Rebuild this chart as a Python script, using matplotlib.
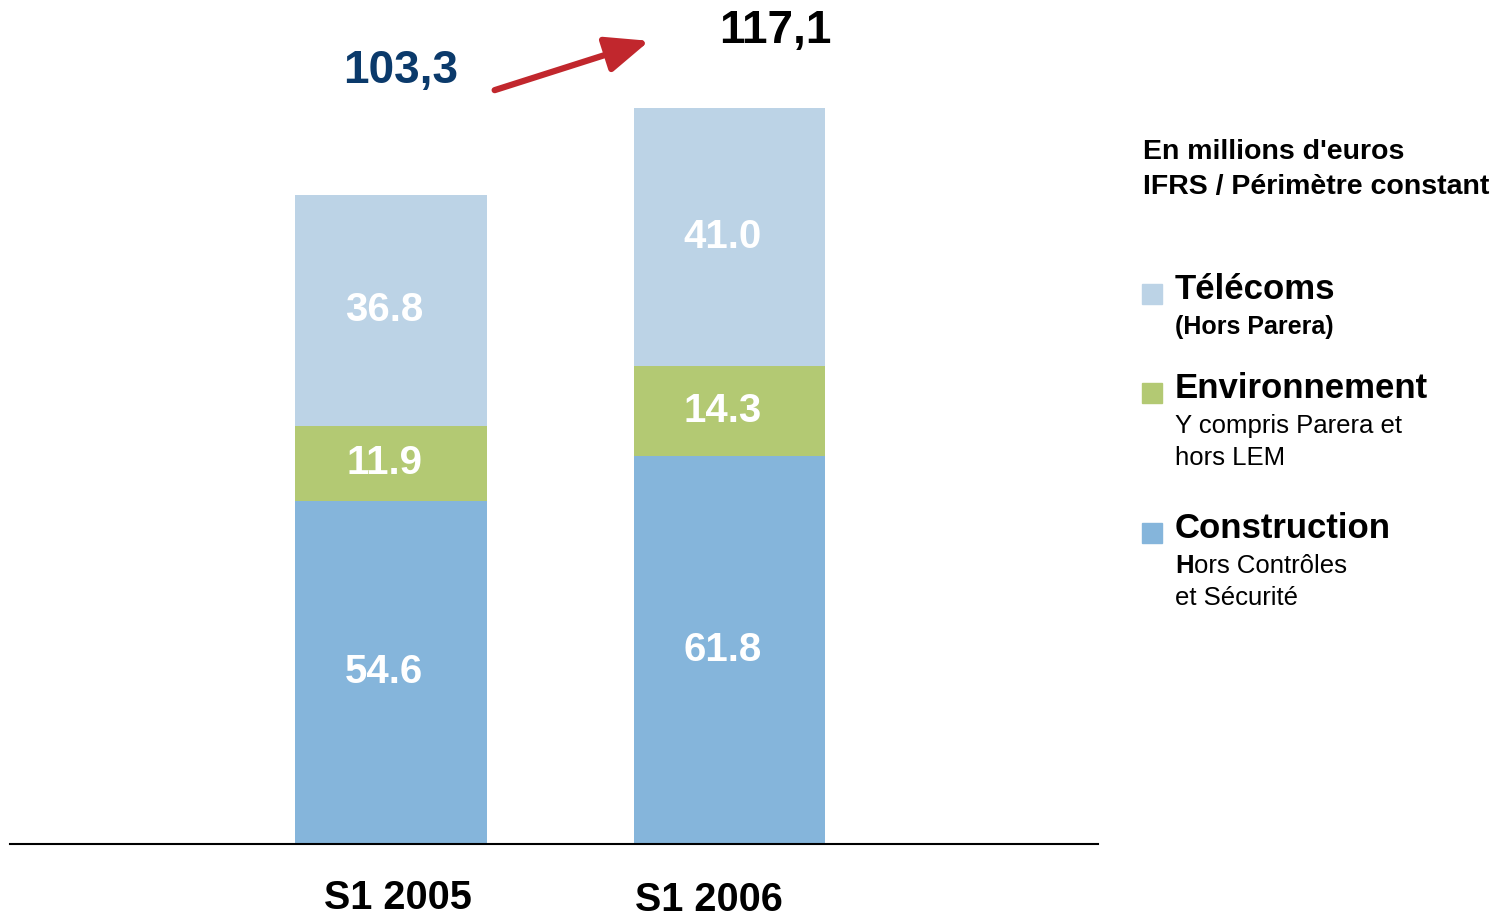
import matplotlib.pyplot as plt
from matplotlib.patches import FancyArrowPatch, Rectangle

plt.rcParams['font.family'] = ['Liberation Sans', 'DejaVu Sans']

# Data
periods = ["S1 2005", "S1 2006"]
construction = [54.6, 61.8]
environnement = [11.9, 14.3]
telecoms = [36.8, 41.0]
totals = ["103,3", "117,1"]

c_tel = "#bcd3e6"
c_env = "#b3c973"
c_con = "#85b5db"

W, H = 1506, 917
fig = plt.figure(figsize=(W / 100, H / 100), dpi=100)


def fx(px):
    return px / W


def fy(py):
    return 1 - py / H


ax = fig.add_axes([fx(10), fy(844), fx(1098) - fx(10), fy(0) - fy(844)])

x = [0, 1]
width = 0.567
ax.bar(x, construction, width, color=c_con)
ax.bar(x, environnement, width, bottom=construction, color=c_env)
bottom_tel = [a + b for a, b in zip(construction, environnement)]
ax.bar(x, telecoms, width, bottom=bottom_tel, color=c_tel)

ax.set_xlim(-1.126, 2.089)
ax.set_ylim(0, 134.3)
for s in ["top", "right", "left"]:
    ax.spines[s].set_visible(False)
ax.spines["bottom"].set_linewidth(1.5)
ax.set_yticks([])
ax.set_xticks([])

# segment labels
for i in range(2):
    segs = [
        (construction[i], 0),
        (environnement[i], construction[i]),
        (telecoms[i], bottom_tel[i]),
    ]
    for val, bot in segs:
        ax.text(x[i] - 0.02, bot + val / 2, f"{val:.1f}", ha="center", va="center",
                color="white", fontsize=29, fontweight="bold")

# totals above bars
fig.text(fx(401), fy(71), totals[0], ha="center", va="center",
         color="#0b3a6b", fontsize=33, fontweight="bold")
fig.text(fx(775), fy(31), totals[1], ha="center", va="center",
         color="black", fontsize=33, fontweight="bold")

# arrow
fig.add_artist(FancyArrowPatch(
    (fx(492), fy(91)), (fx(652), fy(40)), transform=fig.transFigure,
    arrowstyle="-|>,head_length=12,head_width=5", mutation_scale=2.2,
    color="#c1272d", linewidth=4.5))

# period labels
fig.text(fx(398), fy(898), periods[0], ha="center", va="center",
         fontsize=28.5, fontweight="bold")
fig.text(fx(709), fy(900), periods[1], ha="center", va="center",
         fontsize=28.5, fontweight="bold")

# legend block
fig.text(fx(1143), fy(152), "En millions d'euros", ha="left", va="center",
         fontsize=20.5, fontweight="bold")
fig.text(fx(1143), fy(187), "IFRS / Périmètre constant", ha="left", va="center",
         fontsize=20.5, fontweight="bold")

legend_items = [
    (c_tel, "Télécoms", 290),
    (c_env, "Environnement", 389),
    (c_con, "Construction", 529),
]
for color, label, ypx in legend_items:
    fig.add_artist(Rectangle((fx(1142), fy(ypx + 14)), fx(20), fy(0) - fy(20),
                             transform=fig.transFigure, color=color))
    fig.text(fx(1175), fy(ypx), label, ha="left", va="center",
             fontsize=25, fontweight="bold")

fig.text(fx(1175), fy(327), "(Hors Parera)", ha="left", va="center",
         fontsize=18, fontweight="bold")
fig.text(fx(1175), fy(426), "Y compris Parera et", ha="left", va="center", fontsize=18.5)
fig.text(fx(1175), fy(458), "hors LEM", ha="left", va="center", fontsize=18.5)
h_txt = fig.text(fx(1175), fy(566), "H", ha="left", va="center",
                 fontsize=18.5, fontweight="bold")
renderer = fig.canvas.get_renderer()
h_right = h_txt.get_window_extent(renderer).x1
fig.text(h_right / (W), fy(566), "ors Contrôles", ha="left", va="center", fontsize=18.5)
fig.text(fx(1175), fy(598), "et Sécurité", ha="left", va="center", fontsize=18.5)

fig.savefig("out.png", dpi=100)
